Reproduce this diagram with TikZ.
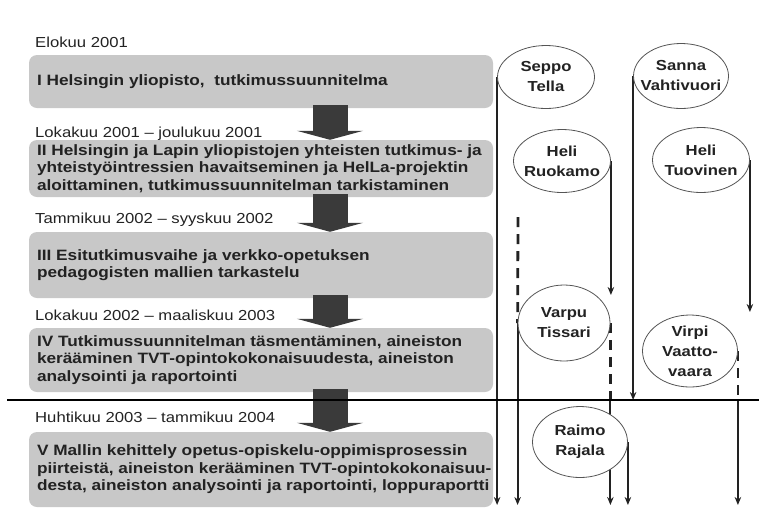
\documentclass[tikz,border=0pt]{standalone}
\usepackage{fontspec}
\setmainfont{Liberation Sans}
\newfontfamily\diagfont[FakeStretch=1.15]{Liberation Sans}
\usepackage{tikz}
\usetikzlibrary{arrows.meta,positioning,shapes.geometric,backgrounds}
\definecolor{phasegray}{HTML}{C8C8C8}
\definecolor{flowgray}{HTML}{3A3A3A}
\definecolor{inkdk}{HTML}{222222}
\definecolor{ovalgray}{HTML}{555555}
\tikzset{
  phase/.style    = {fill=phasegray, rounded corners=8pt, minimum width=464pt,
                     inner sep=0pt},
  phtext/.style   = {anchor=west, xshift=8pt, inner sep=0pt, align=left,
                     text=inkdk,
                     font=\diagfont\bfseries\fontsize{15}{17.5}\selectfont},
  datelab/.style  = {anchor=base west, inner sep=0pt, text=inkdk,
                     font=\diagfont\fontsize{14.5}{17}\selectfont},
  flow/.style     = {draw=flowgray, line width=35pt,
                     -{Triangle[width=66pt,length=9pt]}},
  person/.style   = {ellipse, draw=ovalgray, line width=0.8pt, fill=white,
                     inner sep=0pt},
  pname/.style    = {align=center, text=inkdk,
                     font=\diagfont\bfseries\fontsize{14.5}{20}\selectfont},
  life/.style     = {draw=inkdk, line width=2pt,
                     -{Stealth[length=8pt,width=6.5pt]}},
  partl/.style    = {draw=inkdk, line width=2.8pt, dash pattern=on 10pt off 7pt},
  sepl/.style     = {draw=black, line width=1.4pt},
}

\begin{document}
\begin{tikzpicture}[x=1pt,y=-1pt]
  \useasboundingbox (0,0) rectangle (759,515);

  % phases
  \node[phase, minimum height=53pt,
        label={[phtext]west:{I Helsingin yliopisto,\ \ tutkimussuunnitelma}}]
    (ph1) at (261,81.5) {};
  \node[phase, minimum height=57pt,
        label={[phtext]west:{II Helsingin ja Lapin yliopistojen yhteisten tutkimus- ja\\
          yhteistyöintressien havaitseminen ja HelLa-projektin\\
          aloittaminen, tutkimussuunnitelman tarkistaminen}}]
    (ph2) at (261,168.5) {};
  \node[phase, minimum height=66pt,
        label={[phtext]west:{III Esitutkimusvaihe ja verkko-opetuksen\\
          pedagogisten mallien tarkastelu}}]
    (ph3) at (261,265) {};
  \node[phase, minimum height=64pt,
        label={[phtext]west:{IV Tutkimussuunnitelman täsmentäminen, aineiston\\
          kerääminen TVT-opintokokonaisuudesta, aineiston\\
          analysointi ja raportointi}}]
    (ph4) at (261,360) {};
  \node[phase, minimum height=75pt,
        label={[phtext]west:{V Mallin kehittely opetus-opiskelu-oppimisprosessin\\
          piirteistä, aineiston kerääminen TVT-opintokokonaisuu-\\
          desta, aineiston analysointi ja raportointi, loppuraportti}}]
    (ph5) at (261,469.5) {};

  \node[datelab] (d1) at (35,47)  {Elokuu 2001};
  \node[datelab] (d2) at (35,137) {Lokakuu 2001 – joulukuu 2001};
  \node[datelab] (d3) at (35,223) {Tammikuu 2002 – syyskuu 2002};
  \node[datelab] (d4) at (35,320) {Lokakuu 2002 – maaliskuu 2003};
  \node[datelab] (d5) at (35,422) {Huhtikuu 2003 – tammikuu 2004};

  \coordinate (ax) at (330,0);
  \foreach \a/\b in {ph1/ph2,ph2/ph3,ph3/ph4,ph4/ph5}
    \draw[flow] ([yshift=3pt]\a.south -| ax) -- (\b.north -| ax);

  \coordinate (hl) at (7,400);
  \coordinate (hr) at (759,400);
  \draw[sepl] (hl) -- (hr);

  % people
  \node[person, minimum width=97pt, minimum height=63pt,
        label={[pname]center:{Seppo\\Tella}}] (seppo) at (546,77) {};
  \node[person, minimum width=95pt, minimum height=65pt,
        label={[pname]center:{Sanna\\Vahtivuori}}] (sanna) at (681,76) {};
  \node[person, minimum width=97pt, minimum height=63pt,
        label={[pname]center:{Heli\\Ruokamo}}] (ruokamo) at (562,161) {};
  \node[person, minimum width=97pt, minimum height=65pt,
        label={[pname]center:{Heli\\Tuovinen}}] (tuovinen) at (701,160) {};
  \node[person, minimum width=92pt, minimum height=76pt,
        label={[pname]center:{Varpu\\Tissari}}] (varpu) at (564,323) {};
  \node[person, minimum width=95pt, minimum height=72pt,
        label={[pname]center:{Virpi\\Vaatto-\\vaara}}] (virpi) at (690,351) {};
  \node[person, minimum width=95pt, minimum height=71pt,
        label={[pname]center:{Raimo\\Rajala}}] (raimo) at (580,442) {};

  \coordinate (bot) at (0,505);
  \coordinate (ruokamoend) at (0,295);
  \coordinate (tuovinenend) at (0,312);
  \coordinate (varpupre) at (518,217);

  \begin{scope}[on background layer]
    \draw[life] (seppo.west) -- (seppo.west |- bot);
    \draw[life] (sanna.west) -- (sanna.west |- hl);
    \draw[life] (ruokamo.east) -- (ruokamo.east |- ruokamoend);
    \draw[life] (tuovinen.east) -- (tuovinen.east |- tuovinenend);
    \draw[partl] (varpupre) -- (varpu.west);
    \draw[life] (varpu.west) -- (varpu.west |- bot);
    \draw[partl] (varpu.east) -- (varpu.east |- hl);
    \draw[life] (varpu.east |- hl) -- (varpu.east |- bot);
    \draw[life] (raimo.east) -- (raimo.east |- bot);
    \draw[partl] (virpi.east) -- (virpi.east |- hl);
    \draw[life] (virpi.east |- hl) -- (virpi.east |- bot);
  \end{scope}
\end{tikzpicture}
\end{document}
